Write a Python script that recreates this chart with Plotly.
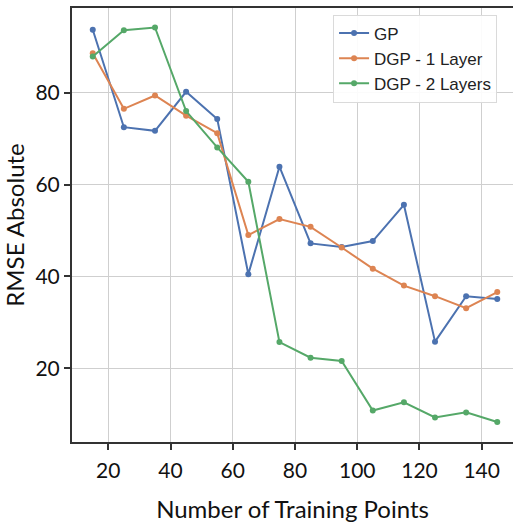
import plotly.graph_objects as go

# Training set sizes
n_points = [15, 25, 35, 45, 55, 65, 75, 85, 95, 105, 115, 125, 135, 145]

# RMSE (absolute) for each model
rmse_gp = [93.7, 72.5, 71.7, 80.2, 74.3, 40.5, 63.9, 47.2, 46.4, 47.7, 55.6, 25.8, 35.7, 35.1]
rmse_dgp1 = [88.6, 76.5, 79.4, 75.0, 71.2, 49.0, 52.5, 50.8, 46.3, 41.7, 38.0, 35.7, 33.1, 36.6]
rmse_dgp2 = [87.9, 93.6, 94.2, 76.0, 68.1, 60.6, 25.7, 22.3, 21.6, 10.8, 12.6, 9.3, 10.4, 8.3]

series_names = ["GP", "DGP - 1 Layer", "DGP - 2 Layers"]
series_colors = ["#4C72B0", "#DD8452", "#55A868"]

x_ticks = [20, 40, 60, 80, 100, 120, 140]
y_ticks = [20, 40, 60, 80]

fig = go.Figure()
for name, vals, col in zip(series_names, [rmse_gp, rmse_dgp1, rmse_dgp2], series_colors):
    fig.add_trace(go.Scatter(
        x=n_points, y=vals, name=name, mode="lines+markers",
        line=dict(color=col, width=2),
        marker=dict(color=col, size=6),
    ))

tick_font = dict(family="Lato, sans-serif", size=21, color="#111111")
title_font = dict(family="Lato, sans-serif", size=24, color="#111111")

fig.update_layout(
    width=513, height=525,
    margin=dict(l=72, r=0, t=8, b=83),
    paper_bgcolor="white", plot_bgcolor="white",
    showlegend=True,
    legend=dict(
        x=0.592, y=0.985, xanchor="left", yanchor="top",
        bgcolor="rgba(255,255,255,0.9)", bordercolor="#dadada", borderwidth=1,
        font=dict(family="Liberation Sans, Arial, sans-serif", size=17, color="#222222"),
        tracegroupgap=0,
    ),
)

fig.update_xaxes(
    range=[8.33, 150.06], tickvals=x_ticks,
    showgrid=True, gridcolor="#cfcfcf", gridwidth=1,
    showline=True, linecolor="#333333", linewidth=2, mirror=True,
    ticks="outside", ticklen=6, tickwidth=1.5, tickcolor="#333333",
    tickfont=tick_font, zeroline=False, ticklabelstandoff=3,
    title=dict(text="Number of Training Points", font=title_font, standoff=20),
)
fig.update_yaxes(
    range=[3.95, 98.45], tickvals=y_ticks,
    showgrid=True, gridcolor="#cfcfcf", gridwidth=1,
    showline=True, linecolor="#333333", linewidth=2,
    ticks="outside", ticklen=6, tickwidth=1.5, tickcolor="#333333",
    tickfont=tick_font, zeroline=False,
    title=dict(text="RMSE Absolute", font=title_font, standoff=8),
)

fig.write_html("out.html")
